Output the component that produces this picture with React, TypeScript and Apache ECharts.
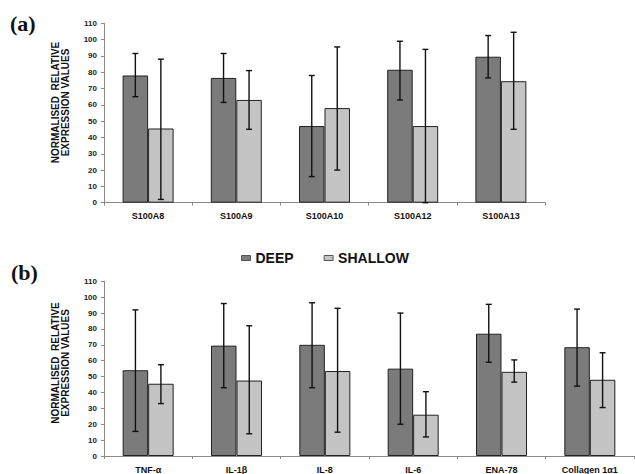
import React, { useEffect, useRef } from "react";
import * as echarts from "echarts";

const catsA = ["S100A8", "S100A9", "S100A10", "S100A12", "S100A13"];
const deepA = [78, 76.5, 47, 81.5, 89.5];
const deepAHigh = [91.5, 91.5, 78, 99, 102.5];
const deepALow = [65, 61.5, 16, 63, 76.5];
const shallowA = [45.5, 63, 58, 47, 74.5];
const shallowAHigh = [88, 81, 95.5, 94, 104.5];
const shallowALow = [2, 45, 20, 0, 45];

const catsB = ["TNF-α", "IL-1β", "IL-8", "IL-6", "ENA-78", "Collagen 1α1"];
const deepB = [54, 69.5, 70, 55, 77, 68.5];
const deepBHigh = [92, 96, 96.5, 90, 95.5, 92.5];
const deepBLow = [15.5, 43, 43, 20, 59, 44];
const shallowB = [45.5, 47.5, 53.5, 26, 53, 48];
const shallowBHigh = [57.5, 82, 93, 40.5, 60.5, 65];
const shallowBLow = [33, 14, 15, 12, 46.5, 30.5];

const yTicks = { min: 0, max: 110, interval: 10 };

const FONT = "'Liberation Sans', Arial, sans-serif";
const DEEP_COLOR = "#7b7b7b";
const SHALLOW_COLOR = "#c4c4c4";
const BORDER = "#222";
const BAR_W = 25.5;

function errData(low: number[], high: number[]) {
  return low.map((l, i) => [i, l, high[i]]);
}

function errSeries(name: string, axis: number, data: number[][], offset: number) {
  return {
    type: "custom",
    name: name + "-err",
    xAxisIndex: axis,
    yAxisIndex: axis,
    z: 5,
    silent: true,
    encode: { x: 0, y: [1, 2] },
    data,
    renderItem: (params: any, api: any) => {
      const lo = api.coord([api.value(0), api.value(1)]);
      const hi = api.coord([api.value(0), api.value(2)]);
      const x = lo[0] + offset;
      const cap = 3;
      const style = { stroke: "#111", lineWidth: 1.4 };
      return {
        type: "group",
        children: [
          { type: "line", shape: { x1: x, y1: lo[1], x2: x, y2: hi[1] }, style },
          { type: "line", shape: { x1: x - cap, y1: hi[1], x2: x + cap, y2: hi[1] }, style },
          { type: "line", shape: { x1: x - cap, y1: lo[1], x2: x + cap, y2: lo[1] }, style },
        ],
      };
    },
  };
}

function xAxis(cats: string[], gridIndex: number) {
  return {
    type: "category",
    gridIndex,
    data: cats,
    boundaryGap: true,
    axisLine: { lineStyle: { color: "#8a8a8a", width: 1 } },
    axisTick: { show: true, length: 3, lineStyle: { color: "#8a8a8a" } },
    axisLabel: {
      fontFamily: FONT,
      fontSize: 9,
      fontWeight: "bold",
      color: "#111",
      margin: 9,
    },
    splitLine: { show: false },
  };
}

function yAxis(gridIndex: number) {
  return {
    type: "value",
    gridIndex,
    min: yTicks.min,
    max: yTicks.max,
    interval: yTicks.interval,
    axisLine: { show: true, lineStyle: { color: "#8a8a8a", width: 1 } },
    axisTick: { show: true, length: 3, lineStyle: { color: "#8a8a8a" } },
    axisLabel: {
      fontFamily: FONT,
      fontSize: 8,
      fontWeight: "bold",
      color: "#222",
      margin: 7,
    },
    splitLine: { show: false },
  };
}

function barSeries(name: string, axis: number, data: number[], color: string) {
  return {
    type: "bar",
    name,
    xAxisIndex: axis,
    yAxisIndex: axis,
    data,
    barWidth: BAR_W,
    barGap: "0%",
    itemStyle: { color, borderColor: BORDER, borderWidth: 1 },
    z: 2,
  };
}

function yTitle(cx: number, cy: number) {
  const common = {
    fontFamily: FONT,
    fontSize: 10,
    fontWeight: "bold",
    fill: "#111",
    align: "center",
    verticalAlign: "middle",
  };
  return [
    {
      type: "text",
      x: cx - 5,
      y: cy,
      rotation: Math.PI / 2,
      style: { ...common, text: "NORMALISED  RELATIVE" },
    },
    {
      type: "text",
      x: cx + 5,
      y: cy,
      rotation: Math.PI / 2,
      style: { ...common, text: "EXPRESSION VALUES" },
    },
  ];
}

export default function App() {
  const ref = useRef<HTMLDivElement>(null);
  useEffect(() => {
    if (!ref.current) return;
    const chart = echarts.init(ref.current, null, { renderer: "svg" });
    chart.setOption({
      animation: false,
      backgroundColor: "#fff",
      legend: {
        left: 236,
        top: 246,
        itemWidth: 9,
        itemHeight: 5,
        itemGap: 30,
        icon: "rect",
        data: ["DEEP", "SHALLOW"],
        textStyle: { fontFamily: FONT, fontSize: 14, fontWeight: "bold", color: "#111" },
        itemStyle: { borderColor: "#555", borderWidth: 1 },
        selectedMode: false,
      },
      grid: [
        { left: 104, top: 23.3, width: 441, height: 179.4 },
        { left: 104, top: 281.3, width: 530, height: 177 },
      ],
      xAxis: [xAxis(catsA, 0), xAxis(catsB, 1)],
      yAxis: [yAxis(0), yAxis(1)],
      graphic: [
        {
          type: "text",
          left: 10,
          top: 12,
          style: { text: "(a)", fontFamily: "'Liberation Serif', 'Times New Roman', serif", fontSize: 22, fontWeight: "bold", fill: "#111" },
        },
        {
          type: "text",
          left: 11,
          top: 261,
          style: { text: "(b)", fontFamily: "'Liberation Serif', 'Times New Roman', serif", fontSize: 22, fontWeight: "bold", fill: "#111" },
        },
        ...yTitle(60, 102.5),
        ...yTitle(60, 363),
      ],
      series: [
        barSeries("DEEP", 0, deepA, DEEP_COLOR),
        barSeries("SHALLOW", 0, shallowA, SHALLOW_COLOR),
        barSeries("DEEP", 1, deepB, DEEP_COLOR),
        barSeries("SHALLOW", 1, shallowB, SHALLOW_COLOR),
        errSeries("DEEP-a", 0, errData(deepALow, deepAHigh), -BAR_W / 2),
        errSeries("SHALLOW-a", 0, errData(shallowALow, shallowAHigh), BAR_W / 2),
        errSeries("DEEP-b", 1, errData(deepBLow, deepBHigh), -BAR_W / 2),
        errSeries("SHALLOW-b", 1, errData(shallowBLow, shallowBHigh), BAR_W / 2),
      ],
    });
    return () => chart.dispose();
  }, []);
  return <div ref={ref} style={{ width: 635, height: 474, position: "absolute", left: 0, top: 0 }} />;
}
